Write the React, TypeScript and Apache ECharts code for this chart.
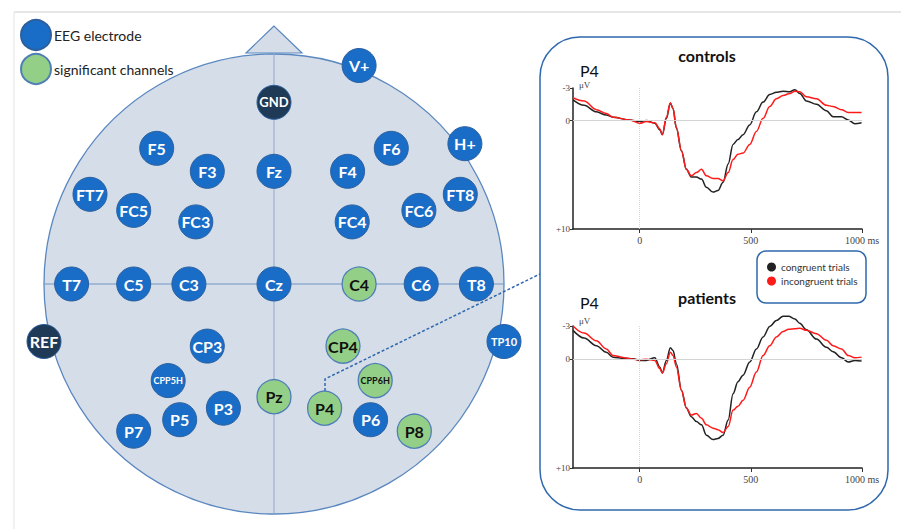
import React, { useEffect, useRef } from 'react';
import * as echarts from 'echarts';

// Electrode montage in head units (centre 0,0; head radius 1; +y toward the nose)
const electrodeNames = ['GND', 'V+', 'H+', 'F5', 'F3', 'Fz', 'F4', 'F6', 'FT7', 'FC5', 'FC3', 'FC4', 'FC6', 'FT8', 'T7', 'C5', 'C3', 'Cz', 'C4', 'C6', 'T8', 'TP10', 'REF', 'CP3', 'CPP5H', 'P3', 'P5', 'P7', 'Pz', 'CP4', 'CPP6H', 'P4', 'P6', 'P8'];
const electrodeX = [0, 0.37, 0.83, -0.51, -0.29, 0, 0.32, 0.51, -0.8, -0.61, -0.34, 0.34, 0.63, 0.81, -0.88, -0.61, -0.37, 0, 0.37, 0.64, 0.88, 1.0, -1.0, -0.29, -0.46, -0.22, -0.41, -0.61, 0, 0.3, 0.44, 0.22, 0.42, 0.61];
const electrodeY = [0.79, 0.95, 0.61, 0.59, 0.49, 0.49, 0.49, 0.59, 0.39, 0.32, 0.27, 0.27, 0.32, 0.39, 0, 0, 0, 0, 0, 0, 0, -0.25, -0.25, -0.27, -0.42, -0.54, -0.59, -0.64, -0.49, -0.27, -0.42, -0.54, -0.59, -0.64];
const significantChannels = ['C4', 'Pz', 'CP4', 'CPP6H', 'P4', 'P8'];
const referenceChannels = ['GND', 'REF'];

// ERP at P4, time in ms, amplitude in µV (negative up)
const controlsTime = [-300, -250, -195, -150, -120, -45, 0, 30, 68, 90, 102, 120, 138, 150, 165, 188, 210, 232, 255, 278, 300, 330, 352, 375, 398, 420, 442, 465, 495, 525, 555, 585, 615, 645, 675, 698, 720, 750, 795, 840, 870, 908, 938, 968, 998];
const controlsCongruent = [-1.9, -1.4, -0.8, -0.5, -0.3, -0.05, 0.1, 0, 0.25, 0.85, 1.3, -0.2, -1.6, -1.1, 0.7, 2.8, 4.5, 5.2, 5.2, 5.4, 6.15, 6.6, 6.45, 5.7, 4.0, 2.2, 1.75, 1.3, 0.4, -0.8, -1.7, -2.4, -2.6, -2.7, -2.65, -2.85, -2.5, -1.8, -1.5, -0.9, -0.35, -0.35, -0.05, 0.3, 0.2];
const controlsIncongruent = [-2.1, -1.8, -1.0, -0.65, -0.3, -0.05, 0.25, 0.1, 0.2, 0.75, 1.3, -0.3, -1.65, -1.1, 0.65, 2.8, 4.5, 5.1, 4.8, 4.5, 5.1, 5.35, 5.35, 5.55, 4.8, 3.6, 3.1, 3.0, 2.2, 1.0, -0.2, -1.3, -2.0, -2.3, -2.5, -2.7, -2.65, -2.2, -2.0, -1.4, -1.3, -1.0, -0.75, -0.75, -0.75];

const patientsTime = [-300, -250, -195, -150, -120, -70, -30, 0, 30, 68, 90, 102, 120, 138, 150, 165, 188, 210, 232, 255, 278, 300, 330, 352, 375, 398, 420, 442, 465, 495, 525, 555, 585, 615, 645, 670, 698, 720, 750, 795, 840, 870, 908, 938, 968, 998];
const patientsCongruent = [-2.6, -1.9, -1.2, -0.6, -0.15, -0.05, 0, 0.15, 0.15, -0.1, 0.75, 1.3, 0.15, -1.0, -0.75, 0.45, 2.9, 4.5, 5.3, 5.75, 6.05, 7.0, 7.4, 7.3, 7.0, 5.6, 3.2, 2.1, 1.5, 0.3, -0.9, -2.0, -2.95, -3.5, -3.9, -3.9, -3.65, -3.25, -2.65, -1.8, -1.05, -0.65, -0.1, 0.3, 0.15, 0.2];
const patientsIncongruent = [-3.0, -2.35, -1.65, -0.9, -0.3, -0.1, 0.05, 0.1, 0.05, 0.15, 0.9, 1.3, 0.45, -0.6, -0.3, 0.75, 2.9, 4.5, 5.15, 5.0, 5.45, 6.05, 6.35, 6.5, 6.75, 6.2, 4.7, 4.35, 3.8, 2.6, 1.2, -0.3, -1.2, -2.0, -2.5, -2.7, -2.75, -2.8, -2.6, -2.3, -1.7, -1.2, -0.9, -0.3, -0.1, -0.15];

const timeTicks = [0, 500, 1000];
const amplitudeTicks = [-3, 0, 10];

const FONT = 'Lato, "Noto Sans", sans-serif';
const SERIF = '"Liberation Serif", serif';
const BLUE = '#1a6dc6';
const NAVY = '#1f3a56';
const GREEN = '#94cf87';
const FRAME_BLUE = '#2f68ad';

const labelSize = (n: string) => (n.length >= 5 ? 9 : n === 'TP10' ? 11 : n === 'GND' ? 13 : 16);

function electrodeData(filter: (n: string) => boolean) {
  return electrodeNames
    .map((n, i) => ({ n, i }))
    .filter(({ n }) => filter(n))
    .map(({ n, i }) => ({
      name: n,
      value: [electrodeX[i], electrodeY[i]],
      label: { fontSize: labelSize(n) },
    }));
}

const pairs = (t: number[], v: number[]) => t.map((x, i) => [x, v[i]]);

function erpAxes(gridIndex: number) {
  const xAxis = {
    type: 'value',
    gridIndex,
    min: -300,
    max: 1000,
    axisLine: { onZero: false, lineStyle: { color: '#222', width: 1.5 } },
    axisTick: { show: true, customValues: timeTicks, length: 4, lineStyle: { color: '#333' } },
    axisLabel: {
      customValues: timeTicks,
      formatter: (v: number) => (v === 1000 ? '1000 ms' : String(v)),
      fontSize: 10,
      color: '#444',
      fontFamily: SERIF,
      margin: 6,
    },
    splitLine: { show: false },
  };
  const yAxis = {
    type: 'value',
    gridIndex,
    inverse: true,
    min: -3,
    max: 10,
    axisLine: { onZero: false, lineStyle: { color: '#222', width: 1.5 } },
    axisTick: { show: true, customValues: amplitudeTicks, length: 3, lineStyle: { color: '#333' } },
    axisLabel: {
      customValues: amplitudeTicks,
      formatter: (v: number) => (v > 0 ? '+' + v : String(v)),
      fontSize: 9,
      color: '#444',
      fontFamily: SERIF,
      margin: 3,
    },
    splitLine: { show: false },
  };
  return { xAxis, yAxis };
}

function erpSeries(axisIndex: number, t: number[], cong: number[], incong: number[]) {
  const base = {
    type: 'line',
    xAxisIndex: axisIndex,
    yAxisIndex: axisIndex,
    showSymbol: false,
    smooth: 0.35,
    smoothMonotone: 'x',
    clip: false,
    z: 3,
  };
  return [
    {
      ...base,
      name: 'congruent trials',
      data: pairs(t, cong),
      itemStyle: { color: '#222' },
      lineStyle: { color: '#222', width: 1.5 },
      markLine: {
        silent: true,
        symbol: 'none',
        label: { show: false },
        data: [
          { yAxis: 0, lineStyle: { color: '#d4d4d4', type: 'solid', width: 1 } },
          { xAxis: 0, lineStyle: { color: '#d4d4d4', type: 'dotted', width: 1 } },
        ],
      },
    },
    {
      ...base,
      name: 'incongruent trials',
      data: pairs(t, incong),
      itemStyle: { color: '#ff1a1a' },
      lineStyle: { color: '#ff1a1a', width: 1.5 },
      z: 4,
    },
  ];
}

function text(x: number, y: number, str: string, size: number, opts: Record<string, unknown> = {}) {
  return {
    type: 'text',
    x,
    y,
    z: 6,
    style: {
      text: str,
      fontSize: size,
      fontFamily: FONT,
      fontWeight: 'normal',
      fill: '#111',
      align: 'left',
      verticalAlign: 'middle',
      textAlign: 'left',
      textVerticalAlign: 'middle',
      ...opts,
    },
  };
}

export default function App() {
  const ref = useRef<HTMLDivElement>(null);

  useEffect(() => {
    if (!ref.current) return;
    const chart = echarts.init(ref.current, undefined, { renderer: 'svg' });

    const c = erpAxes(1);
    const p = erpAxes(2);

    const electrodeLabel = {
      show: true,
      position: 'inside',
      formatter: '{b}',
      fontWeight: 'bold',
      fontFamily: FONT,
    };

    chart.setOption({
      animation: false,
      backgroundColor: '#ffffff',
      grid: [
        { left: 44, top: 54, width: 460, height: 460 },
        { left: 573, top: 88, width: 289, height: 141 },
        { left: 573, top: 326, width: 289, height: 142 },
      ],
      xAxis: [{ type: 'value', gridIndex: 0, min: -1, max: 1, show: false }, c.xAxis, p.xAxis],
      yAxis: [{ type: 'value', gridIndex: 0, min: -1, max: 1, show: false }, c.yAxis, p.yAxis],
      legend: [
        {
          data: ['EEG electrode', 'significant channels'],
          orient: 'vertical',
          left: 20,
          top: 19,
          padding: 0,
          icon: 'circle',
          itemWidth: 30,
          itemHeight: 30,
          itemGap: 2,
          selectedMode: false,
          textStyle: { fontSize: 14, fontFamily: FONT, color: '#222', padding: [0, 0, 0, -2] },
        },
        {
          data: ['congruent trials', 'incongruent trials'],
          orient: 'vertical',
          left: 767,
          top: 262,
          padding: 0,
          icon: 'circle',
          itemWidth: 9,
          itemHeight: 9,
          itemGap: 4,
          selectedMode: false,
          textStyle: { fontSize: 10, fontFamily: FONT, color: '#333' },
        },
      ],
      graphic: [
        // page frame
        { type: 'line', shape: { x1: 14, y1: 12, x2: 901, y2: 12 }, style: { stroke: '#cfcfcf', lineWidth: 1 } },
        { type: 'line', shape: { x1: 14, y1: 12, x2: 14, y2: 529 }, style: { stroke: '#e4e4e4', lineWidth: 1 } },
        // head outline with nose
        { type: 'polygon', shape: { points: [[274, 26], [246, 53], [302, 53]] }, style: { fill: '#d5dee8', stroke: '#5a87c0', lineWidth: 1.2 }, z: 0 },
        { type: 'circle', shape: { cx: 274, cy: 284, r: 230 }, style: { fill: '#d5dee8', stroke: '#5a87c0', lineWidth: 1.3 }, z: 0 },
        { type: 'line', shape: { x1: 274, y1: 53, x2: 274, y2: 514 }, style: { stroke: '#8ea9cb', lineWidth: 1 }, z: 0 },
        { type: 'line', shape: { x1: 44, y1: 284, x2: 504, y2: 284 }, style: { stroke: '#6f93c3', lineWidth: 1 }, z: 0 },
        // connector from P4 to the ERP panel
        { type: 'polyline', shape: { points: [[325, 391], [325, 379], [540, 274]] }, style: { stroke: FRAME_BLUE, lineWidth: 1.5, lineDash: [3, 2], fill: 'none' }, z: 1 },
        // ERP panel
        { type: 'rect', shape: { x: 540, y: 37, width: 348, height: 473, r: 40 }, style: { fill: 'none', stroke: FRAME_BLUE, lineWidth: 1.5 }, z: 1 },
        { type: 'rect', shape: { x: 757, y: 251, width: 109, height: 52, r: 9 }, style: { fill: '#ffffff', stroke: FRAME_BLUE, lineWidth: 1.5 }, z: 1 },
        text(707, 55, 'controls', 16, { fontWeight: 'bold', align: 'center', textAlign: 'center' }),
        text(580, 70, 'P4', 16),
        text(579, 85, 'μV', 9, { fontFamily: SERIF, fill: '#444' }),
        text(707, 297, 'patients', 16, { fontWeight: 'bold', align: 'center', textAlign: 'center' }),
        text(580, 302, 'P4', 16),
        text(579, 321, 'μV', 9, { fontFamily: SERIF, fill: '#444' }),
      ],
      series: [
        {
          name: 'EEG electrode',
          type: 'scatter',
          xAxisIndex: 0,
          yAxisIndex: 0,
          clip: false,
          symbolSize: 34,
          z: 5,
          itemStyle: { color: BLUE, borderColor: '#2b5f9e', borderWidth: 1, opacity: 1 },
          label: { ...electrodeLabel, color: '#ffffff' },
          data: electrodeData((n) => !significantChannels.includes(n) && !referenceChannels.includes(n)),
        },
        {
          name: 'significant channels',
          type: 'scatter',
          xAxisIndex: 0,
          yAxisIndex: 0,
          clip: false,
          symbolSize: 34,
          z: 5,
          itemStyle: { color: GREEN, borderColor: '#4f7fb6', borderWidth: 1.3, opacity: 1 },
          label: { ...electrodeLabel, color: '#111111' },
          data: electrodeData((n) => significantChannels.includes(n)),
        },
        {
          name: 'reference',
          type: 'scatter',
          xAxisIndex: 0,
          yAxisIndex: 0,
          clip: false,
          symbolSize: 34,
          z: 5,
          itemStyle: { color: NAVY, borderColor: '#2b5f9e', borderWidth: 1, opacity: 1 },
          label: { ...electrodeLabel, color: '#ffffff' },
          data: electrodeData((n) => referenceChannels.includes(n)),
        },
        ...erpSeries(1, controlsTime, controlsCongruent, controlsIncongruent),
        ...erpSeries(2, patientsTime, patientsCongruent, patientsIncongruent),
      ],
    });

    return () => chart.dispose();
  }, []);

  return <div ref={ref} style={{ position: 'fixed', left: 0, top: 0, width: 901, height: 529 }} />;
}
